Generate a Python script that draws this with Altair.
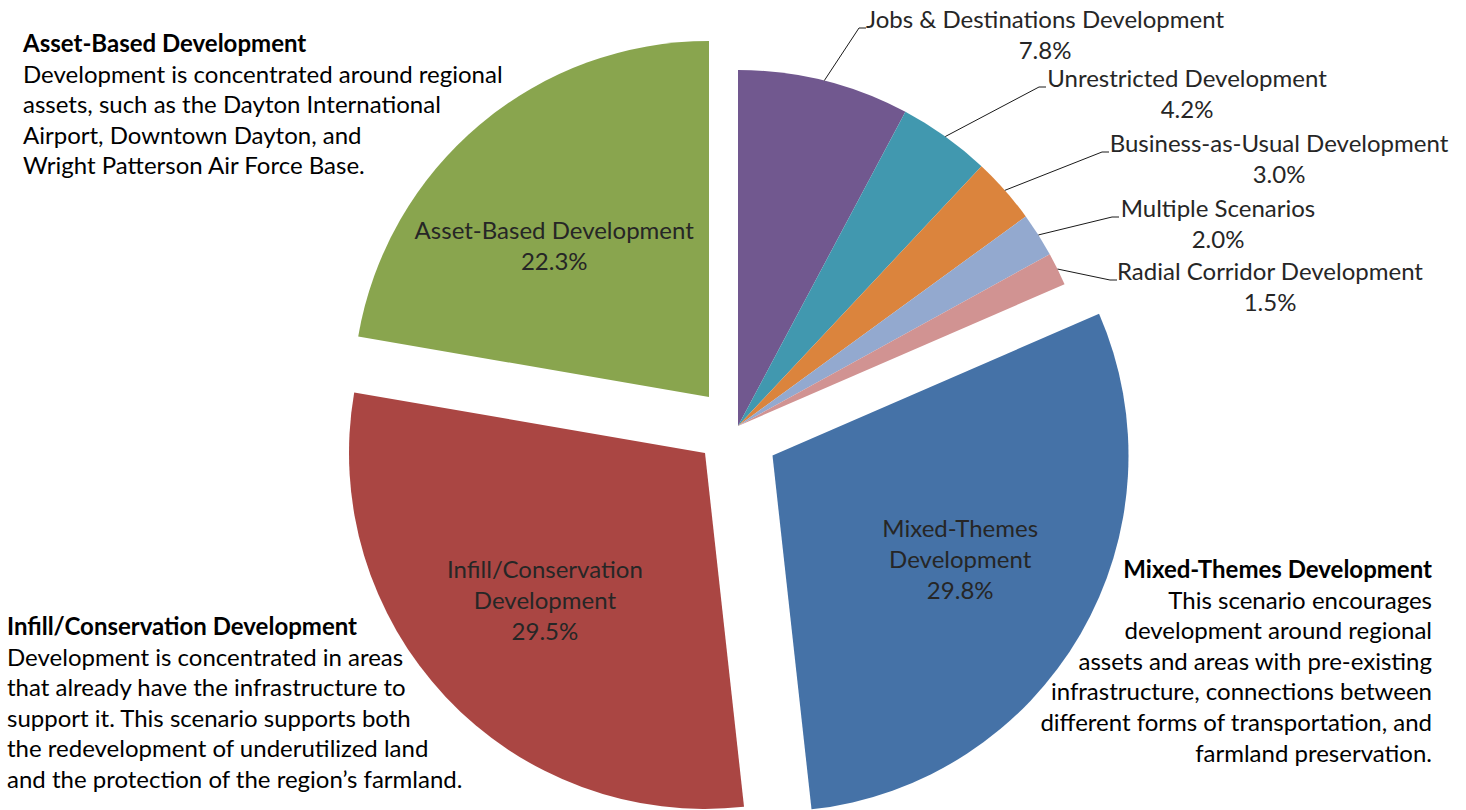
import math
import altair as alt
import pandas as pd

# ---------------- data ----------------
CATEGORIES = [
    "Jobs & Destinations Development",
    "Unrestricted Development",
    "Business-as-Usual Development",
    "Multiple Scenarios",
    "Radial Corridor Development",
    "Mixed-Themes Development",
    "Infill/Conservation Development",
    "Asset-Based Development",
]
SHARES = [7.8, 4.2, 3.0, 2.0, 1.5, 29.8, 29.5, 22.3]
EXPLODED = ["Mixed-Themes Development", "Infill/Conservation Development", "Asset-Based Development"]
INNER_NAMES = ["Mixed-Themes\nDevelopment", "Infill/Conservation\nDevelopment", "Asset-Based Development"]

NOTE_TITLES = ["Asset-Based Development", "Infill/Conservation Development", "Mixed-Themes Development"]
NOTE_BODIES = [
    ["Development is concentrated around regional",
     "assets, such as the Dayton International",
     "Airport, Downtown Dayton, and",
     "Wright Patterson Air Force Base."],
    ["Development is concentrated in areas",
     "that already have the infrastructure to",
     "support it. This scenario supports both",
     "the redevelopment of underutilized land",
     "and the protection of the region\u2019s farmland."],
    ["This scenario encourages ",
     "development around regional",
     "assets and areas with pre-existing",
     "infrastructure, connections between",
     "different forms of transportation, and",
     "farmland preservation."],
]

# ---------------- styles ----------------
COLORS = ["#71588F", "#4198AF", "#DB843D", "#93A9CF", "#D19392", "#4572A7", "#AA4643", "#89A54E"]
FONT = "Lato"
FS = 24
LABEL_COLOR = "#262626"

# ---------------- layout (pixels) ----------------
W, H = 1466, 810
CX, CY, R = 738, 426, 356
EXPLODE_SHIFT = [(34.5, 29.5), (-33, 27), (-29, -29)]      # pie-centre shift of the exploded slices
INNER_R = 217
INNER_NUDGE = [(0, -3), (-2, 0), (-15, 16)]
OUTER_LABEL_XY = [(1045, 28), (1187, 87), (1279, 152), (1218, 217), (1270, 280)]
LEADER_ELBOW = [(859, 28), (1039, 87), (1102, 152), (1112, 217), (1110, 280)]
ELBOW_LEN = 7
NOTE_POS = [(23, 52, "left"), (7, 635, "left"), (1432, 578, "right")]
NOTE_LINE = 30.6
LABEL_LINE = 31

# ---------------- table ----------------
rows = []
small_i = 0
for i, (c, s) in enumerate(zip(CATEGORIES, SHARES)):
    row = {"category": c, "share": s, "order": i, "exploded": c in EXPLODED,
           "inner": "", "dx": 0, "dy": 0, "nx": 0, "ny": 0,
           "lx": 0, "ly": 0, "ex": 0, "ey": 0}
    if c in EXPLODED:
        k = EXPLODED.index(c)
        row["inner"] = INNER_NAMES[k]
        row["dx"], row["dy"] = EXPLODE_SHIFT[k]
        row["nx"], row["ny"] = INNER_NUDGE[k]
    else:
        row["lx"], row["ly"] = OUTER_LABEL_XY[small_i]
        row["ex"], row["ey"] = LEADER_ELBOW[small_i]
        small_i += 1
    rows.append(row)
df = pd.DataFrame(rows)

TOTAL = sum(SHARES)
theta_scale = alt.Scale(domain=[0, TOTAL], range=[0, 2 * math.pi])

base = (
    alt.Chart(df)
    .transform_joinaggregate(total="sum(share)")
    .transform_window(cum="sum(share)", sort=[alt.SortField("order")], frame=[None, 0])
    .transform_calculate(v0="datum.cum - datum.share")
    .transform_calculate(v1="datum.cum")
    .transform_calculate(vm="datum.cum - datum.share / 2")
    .transform_calculate(ang="2 * PI * (datum.cum - datum.share / 2) / datum.total")
    .transform_calculate(cx=f"{CX} + datum.dx")
    .transform_calculate(cy=f"{CY} + datum.dy")
    .transform_calculate(sx=f"{CX} + {R} * sin(datum.ang)")
    .transform_calculate(sy=f"{CY} - {R} * cos(datum.ang)")
    .transform_calculate(ex2=f"datum.ex + {ELBOW_LEN}")
    .transform_calculate(pct="format(datum.share, '.1f') + '%'")
    .transform_calculate(inner_text="datum.inner + '\\n' + datum.pct")
    .transform_calculate(extra_lines="indexof(datum.inner, '\\n') >= 0 ? 2 : 1")
    .transform_calculate(tx="datum.cx + datum.nx")
    .transform_calculate(ty=f"datum.cy + datum.ny - datum.extra_lines * {LABEL_LINE} / 2")
    .transform_calculate(outer_text="datum.category + '\\n' + datum.pct")
)

arcs = base.mark_arc(outerRadius=R, innerRadius=0).encode(
    theta=alt.Theta("v0:Q", stack=None, scale=theta_scale),
    theta2=alt.Theta2("v1:Q"),
    x=alt.X("cx:Q", scale=None, axis=None),
    y=alt.Y("cy:Q", scale=None, axis=None),
    color=alt.Color("category:N", scale=alt.Scale(domain=CATEGORIES, range=COLORS), legend=None),
    order=alt.Order("order:Q"),
)

inner = base.transform_filter("datum.exploded").mark_text(
    radius=INNER_R, font=FONT, fontSize=FS, lineBreak="\n", lineHeight=LABEL_LINE,
    color=LABEL_COLOR, align="center", baseline="middle",
).encode(
    theta=alt.Theta("vm:Q", stack=None, scale=theta_scale),
    x=alt.X("tx:Q", scale=None, axis=None),
    y=alt.Y("ty:Q", scale=None, axis=None),
    text="inner_text:N",
)

leaders = base.transform_filter("!datum.exploded").mark_rule(color="#1a1a1a", strokeWidth=1).encode(
    x=alt.X("sx:Q", scale=None, axis=None),
    y=alt.Y("sy:Q", scale=None, axis=None),
    x2=alt.X2("ex:Q"),
    y2=alt.Y2("ey:Q"),
)
elbows = base.transform_filter("!datum.exploded").mark_rule(color="#1a1a1a", strokeWidth=1).encode(
    x=alt.X("ex:Q", scale=None, axis=None),
    y=alt.Y("ey:Q", scale=None, axis=None),
    x2=alt.X2("ex2:Q"),
)

outer = base.transform_filter("!datum.exploded").mark_text(
    font=FONT, fontSize=FS, lineBreak="\n", lineHeight=LABEL_LINE,
    color=LABEL_COLOR, align="center", baseline="alphabetic",
).encode(
    x=alt.X("lx:Q", scale=None, axis=None),
    y=alt.Y("ly:Q", scale=None, axis=None),
    text="outer_text:N",
)

layers = [arcs, leaders, elbows, inner, outer]
for title, body, (nx, ny, nalign) in zip(NOTE_TITLES, NOTE_BODIES, NOTE_POS):
    tdf = pd.DataFrame({"t": [title], "b": ["\n".join(body)]})
    layers.append(
        alt.Chart(tdf).mark_text(
            x=nx, y=ny, align=nalign, baseline="alphabetic", font=FONT, fontSize=FS,
            fontWeight="bold", color="black",
        ).encode(text="t:N")
    )
    layers.append(
        alt.Chart(tdf).mark_text(
            x=nx, y=ny + NOTE_LINE, align=nalign, baseline="alphabetic", font=FONT, fontSize=FS,
            lineBreak="\n", lineHeight=NOTE_LINE, color="black",
        ).encode(text="b:N")
    )

chart = (
    alt.layer(*layers)
    .properties(width=W, height=H, padding=0, autosize="none", background="white")
    .configure_view(stroke=None)
)

chart.save("out.html", embed_options={"renderer": "svg", "actions": False})
